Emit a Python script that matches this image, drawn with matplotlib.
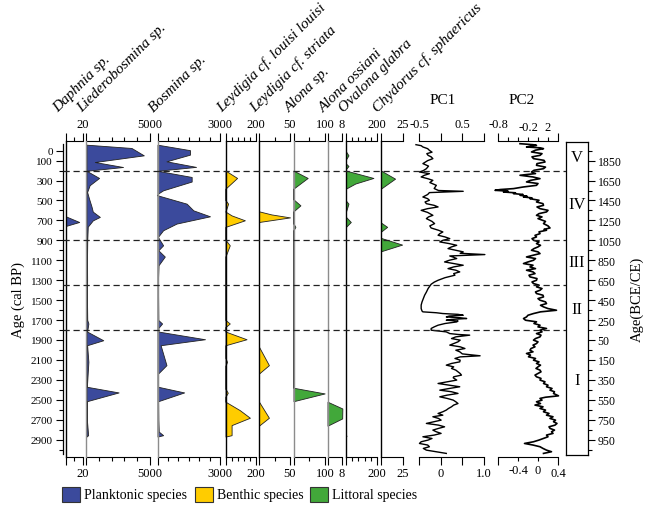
import matplotlib
matplotlib.use("Agg")
import matplotlib.pyplot as plt
from matplotlib.patches import Rectangle

plt.rcParams['font.family'] = ['Liberation Serif', 'DejaVu Serif']

# ---- data (ages in cal BP, values in counts / PC scores) ----
daphnia_age = [660, 716, 755]
daphnia_val = [0, 16, 0]

lieder_age = [-60, -27, 47, 114, 164, 202, 274, 347, 415, 481, 562, 612, 665, 700, 763, 900, 1100,
              1300, 1500, 1700, 1735, 1816, 1903, 1953, 2120, 2370, 2427, 2515, 2700, 2856, 2870]
lieder_val = [0, 3570, 4550, 660, 2900, 0, 1000, 250, 50, 200, 400, 500, 1060, 500, 100, 60, 40,
              50, 40, 60, 150, 50, 1330, 50, 150, 30, 2550, 30, 30, 130, 0]

bosmina_age = [-60, -5, 40, 107, 163, 202, 264, 310, 398, 430, 448, 532, 599, 659, 732, 799, 866,
               950, 1000, 1063, 1150, 1314, 1500, 1700, 1735, 1780, 1816, 1893, 1953, 2153, 2237,
               2370, 2427, 2515, 2700, 2820, 2856, 2870]
bosmina_val = [0, 1560, 1560, 430, 1850, 0, 1640, 1640, 270, 30, 0, 1400, 1720, 2520, 915, 270, 20,
               270, 40, 350, 50, 20, 30, 40, 220, 40, 50, 2280, 150, 430, 30,
               30, 1280, 30, 40, 60, 270, 0]

louisi_age = [200, 274, 381, 496, 532, 612, 650, 699, 765, 895, 950, 1063, 1700, 1735, 1770, 1816,
              1893, 1953, 2080, 2120, 2160, 2390, 2430, 2470, 2520, 2605, 2681, 2755, 2856, 2870]
louisi_val = [0, 76, 0, 0, 17, 0, 40, 127, 0, 0, 28, 0, 0, 28, 0, 0,
              138, 0, 0, 10, 0, 0, 15, 0, 0, 94, 160, 40, 40, 0]

striata_age = [609, 640, 670, 716, 1969, 2153, 2237, 2520, 2681, 2760]
striata_val = [0, 20, 50, 0, 0, 16, 0, 0, 16, 0]

alona_age = [200, 274, 381, 489, 549, 609, 732, 765, 799, 2380, 2437, 2515]
alona_val = [0, 45, 0, 0, 22, 0, 0, 6, 0, 0, 99, 0]

ossiani_age = [2520, 2588, 2688, 2761]
ossiani_val = [0, 8.2, 8.1, 0]

ovalona_age = [8, 47, 88, 130, 154, 185, 200, 274, 330, 381, 502, 532, 612, 665, 716, 765,
               2850, 2865, 2870]
ovalona_val = [0, 16, 0, 0, 16, 0, 0, 177, 60, 0, 0, 16, 0, 0, 31, 0, 0, 3, 0]

chydorus_age = [200, 281, 381, 722, 765, 813, 876, 943, 1010]
chydorus_val = [0, 16, 0, 0, 7, 0, 0, 24, 0]

pc1_age = [-60, -50, -37, -20, -3, 15, 30, 47, 62, 80, 100, 130, 155, 181, 200, 214, 231, 248, 264,
           281, 298, 320, 348, 380, 400, 408, 415, 421, 440, 465, 482, 498, 515, 532, 549, 565, 582,
           599, 620, 649, 665, 682, 710, 732, 755, 776, 799, 816, 833, 849, 866, 883, 900, 916, 933,
           950, 966, 983, 1000, 1016, 1030, 1043, 1057, 1070, 1083, 1100, 1117, 1133, 1150, 1167,
           1184, 1200, 1217, 1234, 1250, 1275, 1301, 1320, 1341, 1384, 1420, 1451, 1485, 1518, 1550,
           1585, 1610, 1618, 1627, 1635, 1643, 1652, 1660, 1669, 1677, 1685, 1694, 1702, 1710, 1719,
           1735, 1752, 1769, 1785, 1802, 1819, 1836, 1845, 1852, 1869, 1886, 1902, 1919, 1936, 1952,
           1969, 1986, 2003, 2019, 2040, 2059, 2070, 2086, 2103, 2120, 2136, 2153, 2170, 2186, 2203,
           2220, 2237, 2253, 2270, 2280, 2303, 2320, 2337, 2354, 2370, 2387, 2404, 2420, 2437, 2454,
           2471, 2487, 2504, 2521, 2538, 2554, 2571, 2588, 2604, 2621, 2638, 2655, 2671, 2688, 2705,
           2721, 2738, 2755, 2772, 2788, 2805, 2822, 2838, 2855, 2872, 2889, 2905, 2922, 2939, 2955,
           2972, 2989, 3006, 3022, 3039]
pc1_val = [-0.57, -0.45, -0.41, -0.30, -0.26, -0.20, -0.32, -0.29, -0.22, -0.18, -0.30, -0.41, -0.28,
           -0.33, -0.40, -0.49, -0.26, -0.38, -0.45, -0.30, -0.18, -0.25, -0.10, -0.15, -0.05, 0.52,
           0.10, -0.26, -0.30, -0.41, -0.30, -0.26, -0.36, -0.33, -0.15, -0.06, -0.30, -0.45, -0.30,
           -0.18, -0.28, -0.33, -0.20, -0.14, -0.25, -0.22, -0.05, 0.05, -0.02, -0.06, 0.10, 0.21,
           0.05, -0.02, 0.20, 0.37, 0.25, 0.17, 0.35, 0.52, 0.45, 1.02, 0.21, 0.30, 0.37, 0.20, 0.09,
           0.30, 0.52, 0.30, 0.17, 0.35, 0.44, 0.30, 0.33, 0.10, -0.06, -0.15, -0.22, -0.29, -0.33,
           -0.37, -0.40, -0.43, -0.45, -0.45, -0.43, -0.41, -0.10, 0.05, 0.40, 0.52, 0.20, 0.13, 0.45,
           0.60, 0.25, 0.13, 0.40, 0.37, 0.10, -0.06, -0.15, -0.22, -0.22, 0.13, 0.21, 0.40, 0.67,
           0.35, 0.25, 0.45, 0.40, 0.30, 0.21, 0.45, 0.56, 0.35, 0.44, 0.50, 0.91, 0.45, 0.33, 0.45,
           0.44, 0.25, 0.13, 0.30, 0.25, 0.35, 0.40, 0.45, 0.48, 0.30, 0.29, 0.37, 0.15, -0.06, 0.20,
           0.44, 0.20, -0.02, 0.25, 0.40, 0.15, -0.02, 0.15, 0.29, 0.35, 0.40, 0.30, 0.25, 0.18, 0.13,
           0.05, -0.06, 0.05, -0.18, -0.05, 0.01, -0.15, -0.33, -0.05, 0.09, -0.05, -0.18, -0.10,
           0.01, -0.15, -0.41, -0.20, -0.29, -0.45, -0.49, -0.30, -0.26, -0.40, -0.33, -0.10, 0.13]

pc2_age = [-70, -60, -53, -45, -37, -28, -20, -5, 13, 30, 47, 62, 80, 97, 114, 130, 147, 165, 181,
           197, 214, 230, 247, 264, 281, 298, 314, 330, 348, 365, 381, 390, 398, 406, 415, 423, 431,
           440, 448, 457, 465, 474, 482, 498, 515, 532, 549, 565, 582, 599, 615, 632, 649, 665, 682,
           710, 732, 755, 776, 790, 799, 815, 833, 850, 866, 883, 899, 916, 933, 950, 966, 983, 1000,
           1016, 1033, 1050, 1067, 1083, 1100, 1117, 1133, 1150, 1167, 1184, 1200, 1217, 1234, 1250,
           1267, 1284, 1301, 1318, 1334, 1350, 1367, 1384, 1401, 1418, 1434, 1451, 1468, 1485, 1501,
           1518, 1535, 1552, 1568, 1585, 1602, 1618, 1635, 1652, 1669, 1685, 1702, 1718, 1735, 1752,
           1769, 1785, 1802, 1819, 1836, 1852, 1869, 1886, 1902, 1919, 1936, 1952, 1969, 1986, 2003,
           2019, 2036, 2052, 2069, 2086, 2103, 2120, 2136, 2153, 2170, 2186, 2203, 2220, 2237, 2253,
           2270, 2286, 2303, 2320, 2337, 2354, 2370, 2387, 2404, 2420, 2437, 2461, 2475, 2487, 2504,
           2521, 2538, 2554, 2571, 2588, 2604, 2621, 2638, 2655, 2671, 2688, 2705, 2721, 2738, 2755,
           2772, 2788, 2805, 2822, 2838, 2855, 2872, 2889, 2905, 2922, 2939, 2955, 2972, 2989, 3006,
           3022, 3039]
pc2_val = [-0.36, -0.10, -0.03, -0.15, -0.23, 0.05, 0.11, -0.05, -0.13, 0.08, 0.04, -0.12, -0.09,
           0.12, 0.14, -0.02, -0.03, 0.15, 0.11, -0.08, -0.13, -0.05, -0.36, -0.10, 0.04, -0.15,
           -0.23, 0.00, -0.03, -0.30, -0.49, -0.75, -0.86, -0.60, -0.69, -0.45, -0.49, -0.30, -0.36,
           -0.22, -0.29, -0.12, -0.16, 0.02, -0.03, 0.10, 0.11, -0.02, 0.04, 0.20, 0.17, 0.02, -0.03,
           0.08, 0.00, 0.15, 0.11, 0.20, 0.24, 0.12, 0.17, 0.02, 0.04, -0.06, -0.03, -0.12, -0.09,
           0.02, -0.03, 0.05, 0.00, -0.08, -0.13, 0.00, 0.04, -0.10, -0.23, -0.05, -0.09, -0.20,
           -0.29, -0.10, -0.16, -0.05, -0.23, -0.10, -0.06, -0.18, -0.16, -0.02, -0.03, -0.12, -0.09,
           0.02, -0.03, 0.08, 0.04, -0.05, -0.03, 0.10, 0.11, 0.00, 0.04, 0.15, 0.17, 0.05, 0.11,
           0.20, 0.37, 0.05, -0.09, -0.20, -0.23, -0.29, -0.25, -0.03, -0.08, 0.04, 0.00, 0.17, 0.04,
           0.08, -0.03, 0.06, 0.04, -0.05, -0.09, 0.00, -0.03, -0.10, -0.06, -0.14, -0.16, -0.10,
           -0.23, -0.15, -0.19, -0.05, -0.09, 0.02, -0.03, 0.05, 0.00, -0.04, 0.04, 0.06, 0.00, -0.06,
           -0.03, 0.06, 0.04, 0.14, 0.11, 0.20, 0.17, 0.28, 0.24, 0.33, 0.31, 0.41, 0.15, 0.04, 0.08,
           -0.03, 0.05, -0.06, 0.10, 0.04, 0.15, 0.11, 0.22, 0.17, 0.30, 0.24, 0.35, 0.31, 0.38, 0.34,
           0.22, 0.24, 0.33, 0.27, 0.30, 0.17, 0.20, 0.11, 0.02, -0.09, -0.27, -0.10, 0.04, 0.10,
           0.17, 0.27, 0.11]

zone_bounds = [200, 895, 1345, 1800]
zone_names = ['V', 'IV', 'III', 'II', 'I']
zone_label_age = [60, 540, 1115, 1585, 2300]

left_major = [0] + list(range(100, 3000, 200))
right_major = list(range(100, 3000, 200))
age_minor = list(range(200, 3001, 200))

PLANK = '#3b4a9c'
BENTH = '#ffcc00'
LITTO = '#42a83a'

# ---- layout helpers (pixels of a 650x510 canvas) ----
W, H = 650, 510
TOP, BOT = 141.7, 458.0
AGE_TOP, AGE_BOT = -100, 3075


def age_at(py):
    return AGE_TOP + (py - TOP) / (BOT - TOP) * (AGE_BOT - AGE_TOP)


fig = plt.figure(figsize=(6.5, 5.1), dpi=100)


def panel(x0, x1, y0=TOP, y1=BOT):
    ax = fig.add_axes([x0 / W, 1 - y1 / H, (x1 - x0) / W, (y1 - y0) / H])
    ax.set_ylim(age_at(y1), age_at(y0))
    ax.patch.set_visible(False)
    ax.spines['right'].set_visible(False)
    ax.tick_params(axis='y', left=False, labelleft=False)
    return ax


def set_xaxes(ax, lo, hi, major, minor, top_lab, bot_lab):
    ax.set_xlim(lo, hi)
    ax.set_xticks(major, bot_lab)
    ax.set_xticks(minor, minor=True)
    ax.tick_params(axis='x', which='major', direction='out', length=5.5, width=0.8,
                   labelsize=9, pad=2)
    ax.tick_params(axis='x', which='minor', direction='out', length=3, width=0.8)
    sec = ax.secondary_xaxis('top')
    sec.set_xticks(major, top_lab)
    sec.set_xticks(minor, minor=True)
    sec.tick_params(axis='x', which='major', direction='out', length=5.5, width=0.8,
                    labelsize=9, pad=2)
    sec.tick_params(axis='x', which='minor', direction='out', length=3, width=0.8)
    sec.spines['top'].set_linewidth(0.8)
    ax.spines['top'].set_visible(False)
    ax.spines['bottom'].set_linewidth(0.8)


taxa = [
    # name, x0, x1, max, minor ticks, ages, values, colour, zero-line colour, title x
    ('Daphnia sp.', 66, 82.5, 20, [10], daphnia_age, daphnia_val, PLANK, 'black', 58),
    ('Liederobosmina sp.', 86.5, 149.5, 5000, [1000, 2000, 3000, 4000], lieder_age, lieder_val,
     PLANK, '#8c8c8c', 82.5),
    ('Bosmina sp.', 157.5, 220, 3000, [500, 1000, 1500, 2000, 2500], bosmina_age, bosmina_val,
     PLANK, '#8c8c8c', 154),
    ('Leydigia cf. louisi louisi', 225.5, 256, 200, [40, 80, 120, 160], louisi_age, louisi_val,
     BENTH, 'black', 222),
    ('Leydigia cf. striata', 259, 290, 50, [25], striata_age, striata_val, BENTH, 'black', 255.5),
    ('Alona sp.', 293.5, 325, 100, [50], alona_age, alona_val, LITTO, '#8c8c8c', 289.5),
    ('Alona ossiani', 327.5, 342, 8, [], ossiani_age, ossiani_val, LITTO, '#8c8c8c', 324),
    ('Ovalona glabra', 346, 377, 200, [40, 80, 120, 160], ovalona_age, ovalona_val, LITTO,
     'black', 343.5),
    ('Chydorus cf. sphaericus', 381, 403, 25, [], chydorus_age, chydorus_val, LITTO, 'black', 377.5),
]

for name, x0, x1, vmax, minor, ages, vals, col, zc, tx in taxa:
    ax = panel(x0, x1)
    ax.fill_betweenx(ages, 0, vals, facecolor=col, edgecolor='#222222', linewidth=0.6,
                     clip_on=False, zorder=2)
    ax.spines['left'].set_color(zc)
    ax.spines['left'].set_linewidth(1.0)
    ax.spines['left'].set_zorder(3)
    lab = ['', str(vmax)]
    set_xaxes(ax, 0, vmax, [0, vmax], minor, lab, lab)
    fig.text(tx / W, 1 - 113 / H, name, rotation=45, rotation_mode='anchor', ha='left',
             va='baseline', style='italic', fontsize=11)

# PC1
ax = panel(419, 484)
ax.plot(pc1_val, pc1_age, color='black', linewidth=1.0, clip_on=False)
ax.spines['left'].set_visible(False)
set_xaxes(ax, -0.5, 1.0, [-0.5, 0, 0.5, 1.0], [], ['-0.5', '', '0.5', ''], ['', '0', '', '1.0'])
fig.text(443 / W, 1 - 100 / H, 'PC1', ha='center', va='center', fontsize=11)

# PC2
ax = panel(498, 558)
ax.plot(pc2_val, pc2_age, color='black', linewidth=1.2, clip_on=False)
ax.spines['left'].set_visible(False)
set_xaxes(ax, -0.8, 0.4, [-0.8, 0.4], [-0.6, -0.4, -0.2, 0, 0.2],
          ['-0.8', ''], ['', '0.4'])
ax.set_xticks([-0.4, 0], ['-0.4', '0'], minor=True)
ax.tick_params(axis='x', which='minor', labelsize=9, pad=2)
for v, s in [(-0.2, '-0.2'), (0.2, '2')]:
    ax.text(v, age_at(131), s, ha='center', va='baseline', fontsize=9)
fig.text(522 / W, 1 - 100 / H, 'PC2', ha='center', va='center', fontsize=11)

# zone box with BCE/CE axis
axz = panel(566, 588, 143, 456)
axz.set_xlim(0, 1)
for s in ['top', 'bottom', 'left', 'right']:
    axz.spines[s].set_visible(True)
    axz.spines[s].set_linewidth(0.9)
axz.set_xticks([])
axz.yaxis.set_ticks_position('right')
axz.set_yticks(right_major, [str(abs(1950 - a)) for a in right_major])
axz.set_yticks([0] + age_minor, minor=True)
axz.tick_params(axis='y', which='major', right=True, labelright=True, length=5, width=0.8,
                labelsize=8.5, pad=2)
axz.tick_params(axis='y', which='minor', right=True, length=3, width=0.8)
for nm, a in zip(zone_names, zone_label_age):
    axz.text(0.5, a, nm, ha='center', va='center', fontsize=12)
axz.yaxis.set_label_position('right')
axz.set_ylabel('Age(BCE/CE)', fontsize=10.5, labelpad=6)

# left age axis + zone boundaries
axa = panel(62.5, 566)
axa.set_xlim(0, 1)
for s in ['top', 'bottom']:
    axa.spines[s].set_visible(False)
axa.spines['left'].set_bounds(-70, 3045)
axa.spines['left'].set_linewidth(0.9)
axa.set_xticks([])
axa.set_yticks(left_major, [str(a) for a in left_major])
axa.set_yticks(age_minor, minor=True)
axa.tick_params(axis='y', which='major', left=True, labelleft=True, length=5, width=0.8,
                labelsize=8, pad=2)
axa.tick_params(axis='y', which='minor', left=True, length=3, width=0.8)
axa.set_ylabel('Age (cal BP)', fontsize=10.5, labelpad=4)
axa.hlines(zone_bounds, 0, 1, colors='#222222', linestyles=(0, (5, 3)), linewidth=0.9, zorder=5)

# legend
legend_items = [('Planktonic species', PLANK, 62), ('Benthic species', BENTH, 195),
                ('Littoral species', LITTO, 310)]
for lab, col, lx in legend_items:
    fig.patches.append(Rectangle((lx / W, 1 - 503 / H), 18 / W, 15 / H, facecolor=col,
                                 edgecolor='#333333', linewidth=0.8, transform=fig.transFigure))
    fig.text((lx + 22) / W, 1 - 495.5 / H, lab, ha='left', va='center', fontsize=10)

fig.savefig('out.png', dpi=100)
